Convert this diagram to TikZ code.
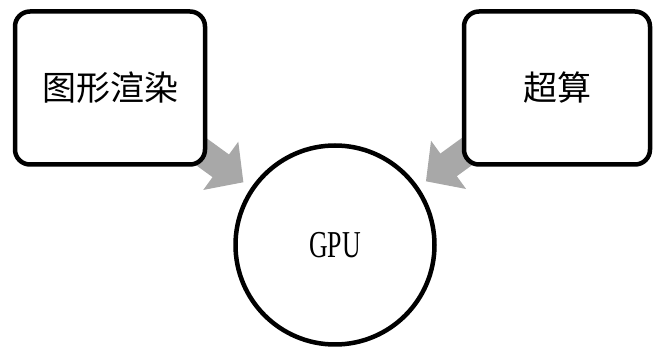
\documentclass[tikz,border=0pt]{standalone}
\usepackage{fontspec}
\usepackage{graphicx}
\newfontfamily\cjk{Noto Sans CJK SC}
\newfontfamily\gpufont{Liberation Serif}
\usetikzlibrary{arrows.meta, calc, backgrounds}
\tikzset{
    field/.style={draw, line width=4.5pt, rounded corners=15pt, fill=white,
        minimum width=190pt, minimum height=153pt, font=\cjk\fontsize{34}{40}\selectfont},
    chip/.style={draw, circle, line width=4.5pt, fill=white, minimum size=199pt},
    feed/.style={line width=28pt, draw=black!34, -{Triangle[length=28pt,width=58pt]}}
}

\begin{document}
\begin{tikzpicture}[x=1pt, y=1pt]
\useasboundingbox (0,0) rectangle (654,348);

\node[field] (render) at (110,260) {图形渲染};
\node[field, minimum width=186pt] (hpc) at (557,260) {超算};
\node[chip] (gpu) at (335,103) {\gpufont\fontsize{38}{40}\selectfont\scalebox{0.68}[1]{GPU}};

\coordinate (tipl) at ($(gpu.center)+(145.6:111)$);
\coordinate (tipr) at ($(gpu.center)+(35:111)$);

% gray block arrows sit behind the boxes and the circle
\begin{scope}[on background layer]
\draw[feed] ($(tipl)+(144:90)$) -- (tipl);
\draw[feed] ($(tipr)+(36:90)$) -- (tipr);
\end{scope}
\end{tikzpicture}
\end{document}
